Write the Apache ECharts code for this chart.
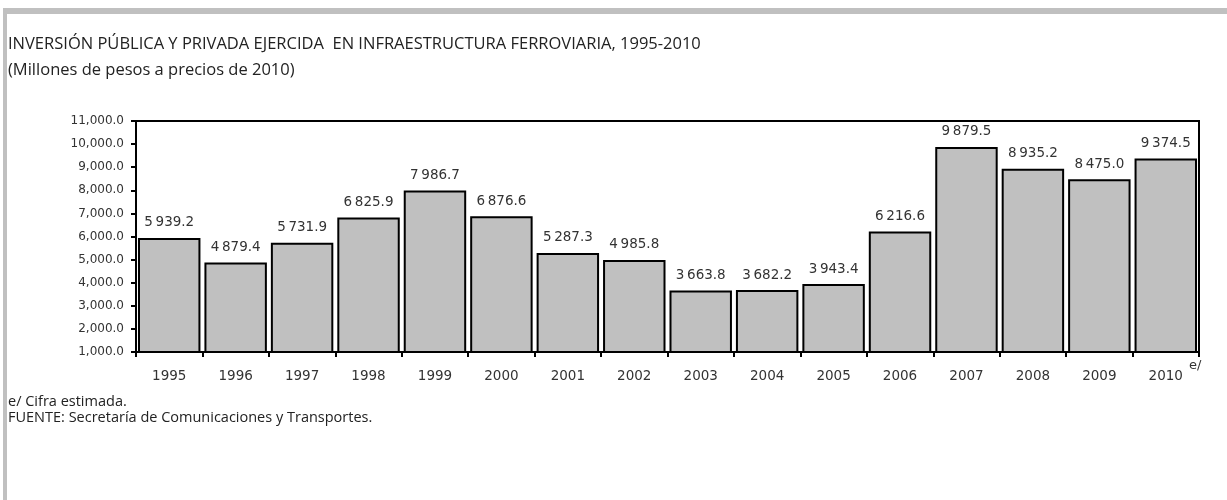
<!DOCTYPE html>
<html><head><meta charset="utf-8">
<script src="https://cdn.jsdelivr.net/npm/echarts@6/dist/echarts.min.js"></script>
<style>html,body{margin:0;padding:0;background:#fff}#c{width:1227px;height:500px}</style>
</head><body><div id="c"></div>
<script>
const years = ['1995','1996','1997','1998','1999','2000','2001','2002','2003','2004','2005','2006','2007','2008','2009','2010'];
const inversion = [5939.2,4879.4,5731.9,6825.9,7986.7,6876.6,5287.3,4985.8,3663.8,3682.2,3943.4,6216.6,9879.5,8935.2,8475.0,9374.5];
const yTicks = [1000,2000,3000,4000,5000,6000,7000,8000,9000,10000,11000];
const titleText = 'INVERSIÓN PÚBLICA Y PRIVADA EJERCIDA  EN INFRAESTRUCTURA FERROVIARIA, 1995-2010';
const subtitleText = '(Millones de pesos a precios de 2010)';
const noteText = 'e/ Cifra estimada.';
const sourceText = 'FUENTE: Secretaría de Comunicaciones y Transportes.';

function fmtLabel(v){
  const s = v.toFixed(1); const [i,d] = s.split('.');
  return i.replace(/\B(?=(\d{3})+(?!\d))/g,'\u2009') + '.' + d;
}
function fmtAxis(v){
  return v.toFixed(1).replace(/\B(?=(\d{3})+(?!\d))/g, ',');
}
const chart = echarts.init(document.getElementById('c'), null, {renderer:'canvas'});
chart.setOption({
  animation:false,
  backgroundColor:'#fff',
  title:[
    {text:titleText, left:3, top:31, textStyle:{fontFamily:'Open Sans', fontWeight:'normal', fontSize:16.5, color:'#222'}},
    {text:subtitleText, left:3, top:57, textStyle:{fontFamily:'Open Sans', fontWeight:'normal', fontSize:16.5, color:'#222'}}
  ],
  graphic:[
    {type:'rect', shape:{x:3,y:8,width:1224,height:6}, style:{fill:'#c0c0c0'}, silent:true},
    {type:'rect', shape:{x:3,y:8,width:4,height:492}, style:{fill:'#c0c0c0'}, silent:true},
    {type:'text', left:1189, top:359, style:{text:'e/', fontFamily:'DejaVu Sans', fontSize:13, fill:'#333'}},
    {type:'text', left:8, top:394, style:{text:noteText, fontFamily:'Open Sans', fontSize:14.5, fill:'#222'}},
    {type:'text', left:8, top:410, style:{text:sourceText, fontFamily:'Open Sans', fontSize:14.5, fill:'#222'}}
  ],
  grid:{left:136, right:28, top:121, bottom:148, show:true, borderColor:'#000', borderWidth:2, backgroundColor:'transparent'},
  xAxis:{type:'category', data:years,
    axisLine:{lineStyle:{color:'#000', width:2}},
    axisTick:{show:true, length:5, lineStyle:{color:'#000', width:2}},
    axisLabel:{color:'#333', fontFamily:'DejaVu Sans', fontSize:13.5, margin:17},
    splitLine:{show:false}},
  yAxis:{type:'value', min:1000, max:11000, interval:1000,
    axisLine:{show:true, lineStyle:{color:'#000', width:2}},
    axisTick:{show:true, length:5, lineStyle:{color:'#000', width:2}},
    axisLabel:{color:'#333', fontFamily:'DejaVu Sans', fontSize:12, margin:12, formatter:fmtAxis},
    splitLine:{show:false}},
  series:[{type:'bar', data:inversion, barCategoryGap:'6%',
    itemStyle:{color:'#c0c0c0', borderColor:'#000', borderWidth:2},
    label:{show:true, position:'top', distance:8, color:'#333', fontFamily:'DejaVu Sans', fontSize:13.5, formatter:p=>fmtLabel(p.value)}
  }]
});
</script></body></html>
